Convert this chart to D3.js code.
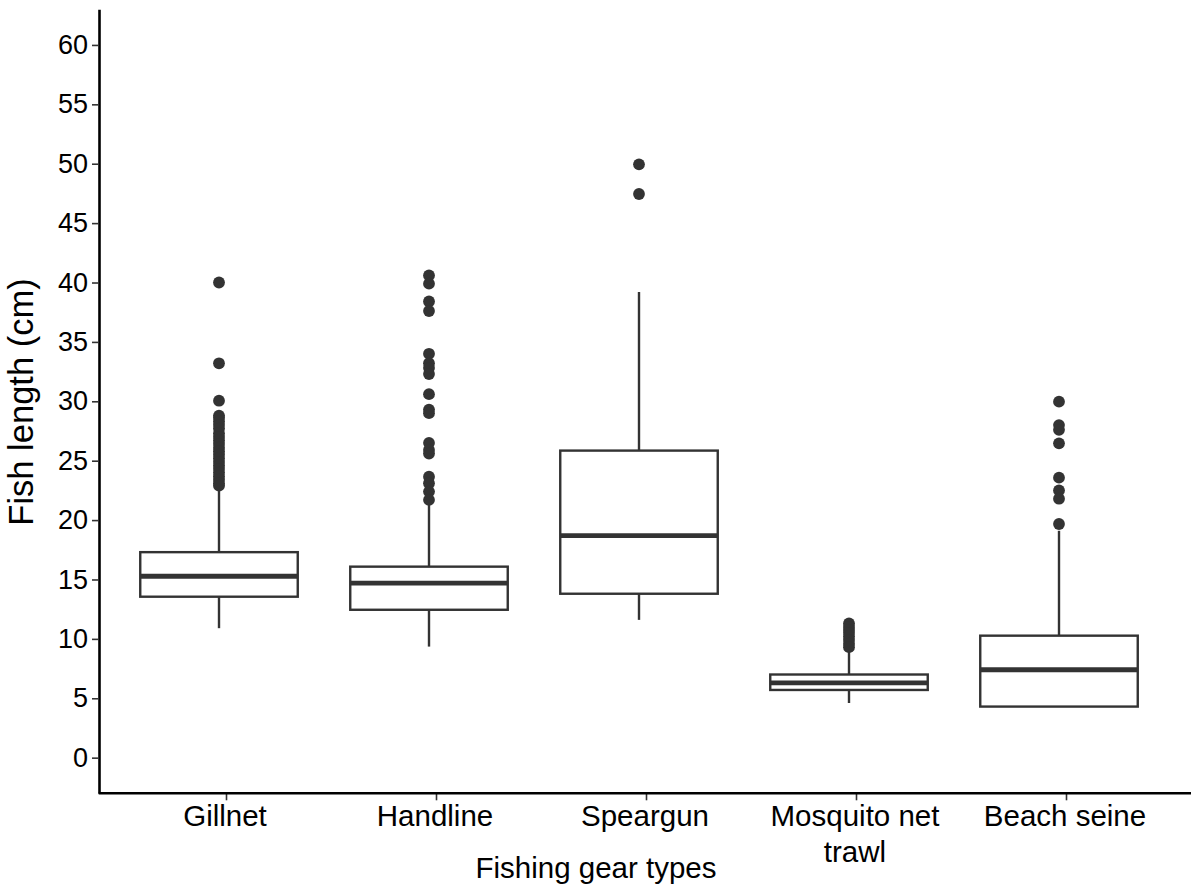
<!DOCTYPE html>
<html>
<head>
<meta charset="utf-8">
<script src="https://cdn.jsdelivr.net/npm/d3@7"></script>
<style>
  html, body { margin: 0; padding: 0; background: #fff; }
  svg { display: block; }
  text { font-family: "Liberation Sans", Arial, sans-serif; fill: #000; }
</style>
</head>
<body>
<svg id="chart" width="1194" height="892"></svg>
<script>
// Fishing gear types and their fish length summaries (cm)
const categories = ["Gillnet", "Handline", "Speargun", "Mosquito net trawl", "Beach seine"];
const categoryLines = [["Gillnet"], ["Handline"], ["Speargun"], ["Mosquito net", "trawl"], ["Beach seine"]];
const whiskerLow  = [10.9, 9.35, 11.6, 4.6, 4.3];
const q1          = [13.55, 12.45, 13.8, 5.7, 4.3];
const medians     = [15.27, 14.7, 18.7, 6.3, 7.4];
const q3          = [17.3, 16.08, 25.85, 7.0, 10.27];
const whiskerHigh = [22.7, 21.5, 39.2, 9.2, 19.1];
const outliers = [
  [40.0, 33.2, 30.05, 28.8, 28.6, 28.3, 28.0, 27.7, 27.3, 27.0, 26.7, 26.4, 26.1, 25.8, 25.5, 25.2, 24.9, 24.6, 24.3, 24.0, 23.7, 23.4, 23.1, 22.9],
  [40.6, 39.9, 38.4, 37.6, 34.0, 33.2, 32.8, 32.3, 30.6, 29.3, 29.0, 26.5, 25.9, 25.6, 23.65, 23.1, 22.4, 21.7],
  [49.95, 47.45],
  [11.3, 11.0, 10.75, 10.5, 10.2, 9.9, 9.6, 9.3],
  [29.97, 28.0, 27.6, 26.46, 23.57, 22.5, 21.8, 19.67]
];
const yTicks = [0, 5, 10, 15, 20, 25, 30, 35, 40, 45, 50, 55, 60];

const svg = d3.select("#chart");
const boxColor = "#333333";

const y = d3.scaleLinear().domain([-3, 63]).range([793.3, 9.3]);
const x = d3.scalePoint().domain(categories).range([93, 1185]).padding(0.6);
const boxW = x.step() * 0.75;

// boxes
const g = svg.append("g");
categories.forEach((c, i) => {
  const cx = x(c);
  // whiskers
  g.append("line").attr("x1", cx).attr("x2", cx)
    .attr("y1", y(q3[i])).attr("y2", y(whiskerHigh[i]))
    .attr("stroke", boxColor).attr("stroke-width", 2.4);
  g.append("line").attr("x1", cx).attr("x2", cx)
    .attr("y1", y(q1[i])).attr("y2", y(whiskerLow[i]))
    .attr("stroke", boxColor).attr("stroke-width", 2.4);
  // box
  g.append("rect").attr("x", cx - boxW / 2).attr("width", boxW)
    .attr("y", y(q3[i])).attr("height", y(q1[i]) - y(q3[i]))
    .attr("fill", "#fff").attr("stroke", boxColor).attr("stroke-width", 2.4);
  // median
  g.append("line").attr("x1", cx - boxW / 2).attr("x2", cx + boxW / 2)
    .attr("y1", y(medians[i])).attr("y2", y(medians[i]))
    .attr("stroke", boxColor).attr("stroke-width", 4.8);
  // outliers
  g.selectAll(null).data(outliers[i]).enter().append("circle")
    .attr("cx", cx).attr("cy", d => y(d)).attr("r", 5.9)
    .attr("fill", boxColor);
});

// y axis
const yAxis = svg.append("g").attr("transform", "translate(99,0)")
  .call(d3.axisLeft(y).tickValues(yTicks).tickSize(7).tickPadding(4).tickSizeOuter(0));
yAxis.select(".domain").attr("stroke", "#000").attr("stroke-width", 2.6);
yAxis.selectAll(".tick line").attr("stroke", "#333").attr("stroke-width", 1.6);
yAxis.selectAll(".tick text").attr("font-size", 27).attr("fill", "#000")
  .attr("font-family", "Liberation Sans, Arial, sans-serif");

// x axis
const xAxis = svg.append("g").attr("transform", "translate(7,793.3)")
  .call(d3.axisBottom(x).tickSize(7).tickFormat(""));
xAxis.select(".domain").remove();
xAxis.selectAll(".tick line").attr("stroke", "#333").attr("stroke-width", 1.6);
svg.append("line").attr("x1", 98.7).attr("x2", 1191)
  .attr("y1", 793.3).attr("y2", 793.3).attr("stroke", "#000").attr("stroke-width", 2.6);

categories.forEach((c, i) => {
  const t = svg.append("text").attr("x", x(c) + 6).attr("y", 826)
    .attr("text-anchor", "middle").attr("font-size", 29.5);
  categoryLines[i].forEach((ln, j) => {
    t.append("tspan").attr("x", x(c) + 6).attr("dy", j === 0 ? 0 : 35.5).text(ln);
  });
});

// axis titles
svg.append("text").attr("x", 596).attr("y", 878).attr("text-anchor", "middle")
  .attr("font-size", 29.5).text("Fishing gear types");
svg.append("text").attr("transform", "translate(33,402) rotate(-90)")
  .attr("text-anchor", "middle").attr("font-size", 34.5).text("Fish length (cm)");
</script>
</body>
</html>
